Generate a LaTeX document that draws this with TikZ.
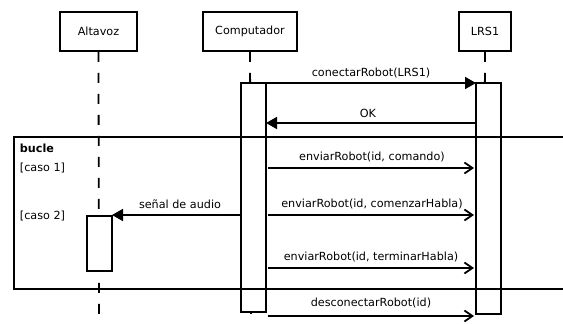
\documentclass[tikz,border=0pt]{standalone}
\usepackage{fontspec}
\setmainfont{DejaVu Sans}
\usetikzlibrary{arrows.meta}
\begin{document}
\begin{tikzpicture}[x=1pt,y=-1pt,line width=1.8pt,
  txt/.style={font=\fontsize{11.2}{13}\selectfont},
  obj/.style={draw,fill=white,minimum height=39pt,inner sep=0pt,txt},
  act/.style={draw,fill=white,inner sep=0pt,minimum width=25pt},
  life/.style={line width=1.8pt,dash pattern=on 10pt off 11pt},
  sync/.style={-{Triangle[length=11pt,width=12pt]}},
  async/.style={-{Straight Barb[length=8pt,width=11pt]}},
  lbl/.style={txt,inner sep=0pt}]
\useasboundingbox (0,0) rectangle (563,324);

% objects
\node[obj,minimum width=77pt] (alt) at (98.5,31.5) {Altavoz};
\node[obj,minimum width=94pt] (comp) at (250,31.5) {Computador};
\node[obj,minimum width=52pt] (lrs) at (485,31.5) {LRS1};

% lifelines
\coordinate (altEnd) at (99,330);
\coordinate (compEnd) at (251,330);
\coordinate (lrsEnd) at (484,330);
\draw[life] (alt.south) -- (altEnd);
\draw[life] (comp.south) -- (compEnd);
\draw[life] (lrs.south) -- (lrsEnd);

% activations
\node[act,minimum height=229pt] (aComp) at (253.5,197.5) {};
\node[act,minimum height=231pt] (aLrs) at (488.5,198.5) {};
\node[act,minimum height=55pt] (aAlt) at (99.5,243.5) {};

% loop frame
\coordinate (f1) at (565,137);
\coordinate (f2) at (14,137);
\coordinate (f3) at (14,289);
\coordinate (f4) at (565,289);
\draw (f1) -- (f2) -- (f3) -- (f4);
\node[lbl,anchor=west,font=\fontsize{11.2}{13}\selectfont\bfseries] (bucle) at (19,148) {bucle};
\node[lbl,anchor=west] (c1) at (19,168) {[caso 1]};
\node[lbl,anchor=west] (c2) at (19,216) {[caso 2]};

% messages
\coordinate (m1a) at (266,83);  \coordinate (m1b) at (476,83);
\coordinate (m2a) at (476,123); \coordinate (m2b) at (266,123);
\coordinate (m3a) at (268,168); \coordinate (m3b) at (474,168);
\coordinate (m4a) at (241,215); \coordinate (m4b) at (112,215);
\coordinate (m5a) at (268,215); \coordinate (m5b) at (474,215);
\coordinate (m6a) at (268,268); \coordinate (m6b) at (474,268);
\coordinate (m7a) at (268,316); \coordinate (m7b) at (474,316);
\draw[sync] (m1a) -- (m1b);
\draw[sync] (m2a) -- (m2b);
\draw[async] (m3a) -- (m3b);
\draw[sync] (m4a) -- (m4b);
\draw[async] (m5a) -- (m5b);
\draw[async] (m6a) -- (m6b);
\draw[async] (m7a) -- (m7b);

\node[lbl] (l1) at (371,73) {conectarRobot(LRS1)};
\node[lbl] (l2) at (368,113) {OK};
\node[lbl] (l3) at (372,157) {enviarRobot(id, comando)};
\node[lbl] (l4) at (180,204) {señal de audio};
\node[lbl] (l5) at (372,204) {enviarRobot(id, comenzarHabla)};
\node[lbl] (l6) at (371,257) {enviarRobot(id, terminarHabla)};
\node[lbl] (l7) at (371,303) {desconectarRobot(id)};
\end{tikzpicture}
\end{document}
